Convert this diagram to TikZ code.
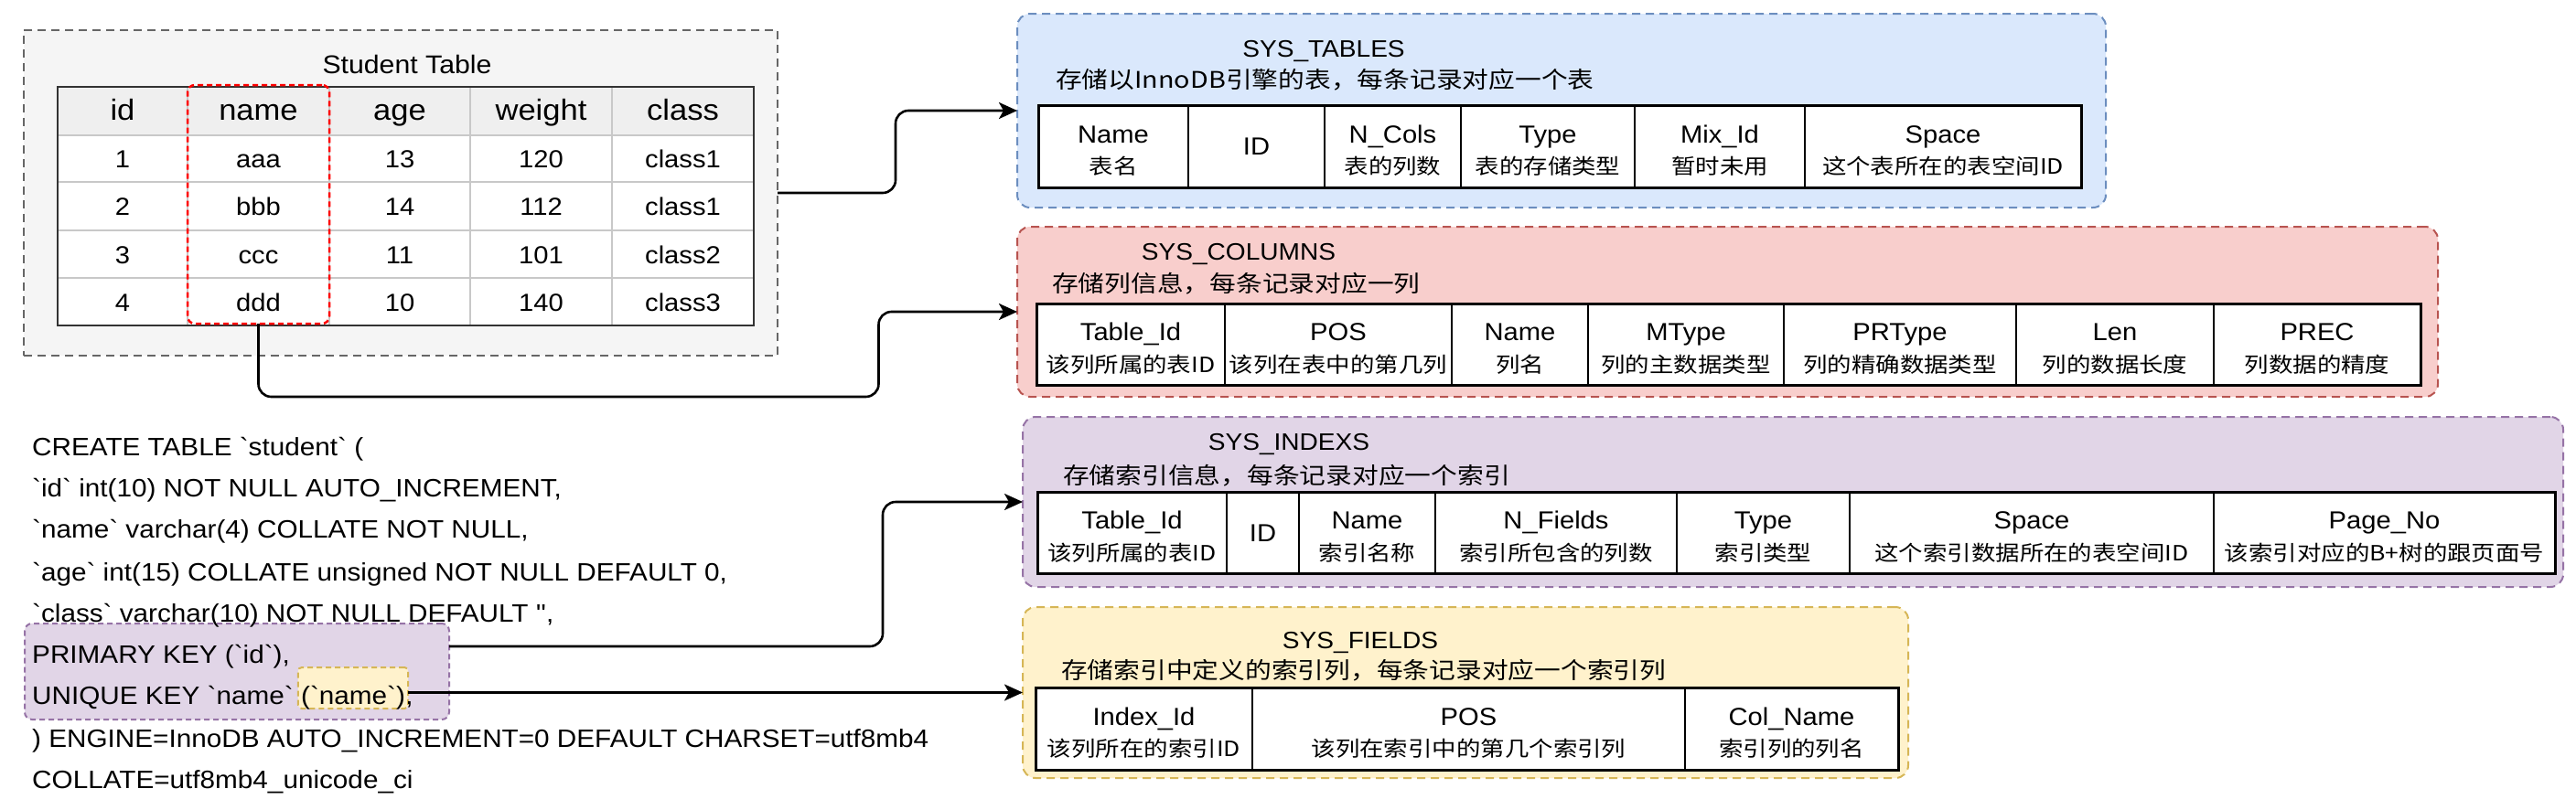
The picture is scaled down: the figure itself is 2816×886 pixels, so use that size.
\documentclass[tikz,border=0pt]{standalone}
\usepackage{fontspec}
\setmainfont{Liberation Sans}[FakeStretch=1.08]
\newfontfamily\sqlfont{Liberation Sans}[FakeStretch=1.08]
\newfontfamily\cjk{Noto Sans CJK SC}[FakeStretch=1.15]
\usetikzlibrary{arrows.meta,fit,backgrounds}
\definecolor{bluefill}{HTML}{DAE8FC}\definecolor{bluedraw}{HTML}{6C8EBF}
\definecolor{redfill}{HTML}{F8CECC}\definecolor{reddraw}{HTML}{B85450}
\definecolor{purfill}{HTML}{E1D5E7}\definecolor{purdraw}{HTML}{9673A6}
\definecolor{yelfill}{HTML}{FFF2CC}\definecolor{yeldraw}{HTML}{D6B656}
\definecolor{grayfill}{HTML}{F5F5F5}\definecolor{graydraw}{HTML}{666666}
\definecolor{hdrfill}{HTML}{EFEFEF}\definecolor{gridgray}{HTML}{C8C8C8}
\tikzset{
 grp/.style={draw, dash pattern=on 9pt off 6pt, line width=2pt, rounded corners=14pt, inner sep=0pt, outer sep=0pt, anchor=north west},
 conn/.style={line width=2.6pt, rounded corners=14pt, -{Stealth[length=20pt,width=18pt,inset=5pt]}},
 lat/.style={font=\fontsize{27}{30}\selectfont, inner sep=0pt, anchor=base},
 cjkc/.style={font=\cjk\fontsize{23}{26}\selectfont, inner sep=0pt, anchor=base},
 ttl/.style={font=\fontsize{26}{30}\selectfont, inner sep=0pt, anchor=base},
 subt/.style={font=\cjk\fontsize{25}{28}\selectfont, inner sep=0pt, anchor=base west},
 sql/.style={font=\sqlfont\fontsize{27.5}{30}\selectfont, inner sep=0pt, anchor=base west},
 sthdr/.style={font=\fontsize{32}{34}\selectfont, inner sep=0pt, anchor=base},
 stcell/.style={font=\fontsize{27}{30}\selectfont, inner sep=0pt, anchor=base},
 cellline/.style={line width=1.5pt, fill=white},
 tabouter/.style={line width=3pt},
}
\newcommand{\cellsTwo}[4]{%
  \foreach \xa/\xb/\ta/\tb [count=\i] in {#4}{
    \draw[cellline] (\xa,#2) rectangle (\xb,#3);
    \node[lat] (#1a\i) at ({(\xa+\xb)/2},{(#2+#3)/2-4}) {\ta};
    \node[cjkc] (#1b\i) at ({(\xa+\xb)/2},{(#2+#3)/2+30.5}) {\tb};
  }}
\newcommand{\cellsOne}[4]{%
  \foreach \xa/\xb/\ta [count=\i] in {#4}{
    \draw[cellline] (\xa,#2) rectangle (\xb,#3);
    \node[lat] (#1id\i) at ({(\xa+\xb)/2},{(#2+#3)/2+9.5}) {\ta};
  }}
\begin{document}
\begin{tikzpicture}[x=1pt,y=-1pt]
\useasboundingbox (0,0) rectangle (2816,886);

% ---------- Student table ----------
\node[grp, rounded corners=0pt, draw=graydraw, fill=grayfill, minimum width=824pt, minimum height=356pt] (stu) at (26,33) {};
\node[font=\fontsize{28}{30}\selectfont, inner sep=0pt, anchor=base] (sttitle) at (445,80) {Student Table};
\fill[hdrfill] (63,95) rectangle (824,148);
\fill[white] (63,148) rectangle (824,356);
\foreach \x in {205,360,514,669} \draw[gridgray, line width=2pt] (\x,95) -- (\x,356);
\foreach \y in {148,199,252,304} \draw[gridgray, line width=2pt] (63,\y) -- (824,\y);
\draw[black!80, line width=2.5pt] (63,95) rectangle (824,356);
\foreach \t/\x [count=\i] in {id/134,name/282.5,age/437,weight/591.5,class/746.5}
  \node[sthdr] (h\i) at (\x,131) {\t};
\foreach \a/\b/\c/\d/\e/\y [count=\i] in {1/aaa/13/120/class1/173.5, 2/bbb/14/112/class1/225.5, 3/ccc/11/101/class2/278, 4/ddd/10/140/class3/330}{
  \node[stcell] (r\i-1) at (134,\y+10) {\a};
  \node[stcell] (r\i-2) at (282.5,\y+10) {\b};
  \node[stcell] (r\i-3) at (437,\y+10) {\c};
  \node[stcell] (r\i-4) at (591.5,\y+10) {\d};
  \node[stcell] (r\i-5) at (746.5,\y+10) {\e};
}
\node[draw=red, dash pattern=on 6pt off 4pt, line width=2.5pt, rounded corners=8pt, inner sep=0pt, outer sep=0pt, anchor=north west, minimum width=155pt, minimum height=261pt] (namebox) at (205,93) {};

% ---------- SQL ----------
\node[sql] (s1) at (35,498) {CREATE TABLE `student` (};
\node[sql] (s2) at (35,543) {`id` int(10) NOT NULL AUTO\_INCREMENT,};
\node[sql] (s3) at (35,588) {`name` varchar(4) COLLATE NOT NULL,};
\node[sql] (s4) at (35,635) {`age` int(15) COLLATE unsigned NOT NULL DEFAULT 0,};
\node[sql] (s5) at (35,680) {`class` varchar(10) NOT NULL DEFAULT '',};
\node[sql] (s6) at (35,725) {PRIMARY KEY (`id`),};
\node[sql] (s7) at (35,770) {UNIQUE KEY `name`};
\node[sql] (s7b) at ([xshift=8pt]s7.base east) {(`name`)};
\node[sql] (s7c) at (s7b.base east) {,};
\node[sql] (s8) at (35,817) {) ENGINE=InnoDB AUTO\_INCREMENT=0 DEFAULT CHARSET=utf8mb4};
\node[sql] (s9) at (35,862) {COLLATE=utf8mb4\_unicode\_ci};

% ---------- SYS_TABLES ----------
\node[grp, draw=bluedraw, fill=bluefill, minimum width=1190pt, minimum height=212pt] (tables) at (1112,15) {};
\node[ttl] (tt) at (1447,62) {SYS\_TABLES};
\node[subt] (ts) at (1154,96) {存储以InnoDB引擎的表，每条记录对应一个表};
\cellsTwo{t}{115}{205}{1135/1299/Name/表名, 1448/1597/N\_Cols/表的列数, 1597/1787/Type/表的存储类型, 1787/1973/Mix\_Id/暂时未用, 1973/2275/Space/这个表所在的表空间ID}
\cellsOne{t}{115}{205}{1299/1448/ID}
\draw[tabouter] (1135,115) rectangle (2275,205);

% ---------- SYS_COLUMNS ----------
\node[grp, draw=reddraw, fill=redfill, minimum width=1553pt, minimum height=186pt] (columns) at (1112,248) {};
\node[ttl] (ct) at (1354,284) {SYS\_COLUMNS};
\node[subt] (cs) at (1150,319) {存储列信息，每条记录对应一列};
\cellsTwo{c}{332}{421}{1133/1339/Table\_Id/该列所属的表ID, 1339/1587/POS/该列在表中的第几列, 1587/1736/Name/列名, 1736/1950/MType/列的主数据类型, 1950/2204/PRType/列的精确数据类型, 2204/2420/Len/列的数据长度, 2420/2646/PREC/列数据的精度}
\draw[tabouter] (1133,332) rectangle (2646,421);

% ---------- SYS_INDEXS ----------
\node[grp, draw=purdraw, fill=purfill, minimum width=1684pt, minimum height=186pt] (indexs) at (1118,456) {};
\node[ttl] (it) at (1409,492) {SYS\_INDEXS};
\node[subt] (is) at (1162,529) {存储索引信息，每条记录对应一个索引};
\cellsTwo{i}{538}{627}{1134/1341/Table\_Id/该列所属的表ID, 1420/1569/Name/索引名称, 1569/1833/N\_Fields/索引所包含的列数, 1833/2022/Type/索引类型, 2022/2420/Space/这个索引数据所在的表空间ID, 2420/2793/Page\_No/该索引对应的B+树的跟页面号}
\cellsOne{i}{538}{627}{1341/1420/ID}
\draw[tabouter] (1134,538) rectangle (2793,627);

% ---------- SYS_FIELDS ----------
\node[grp, draw=yeldraw, fill=yelfill, minimum width=968pt, minimum height=187pt] (fields) at (1118,664) {};
\node[ttl] (ft) at (1487,709) {SYS\_FIELDS};
\node[subt] (fs) at (1160,742) {存储索引中定义的索引列，每条记录对应一个索引列};
\cellsTwo{f}{752}{842}{1132/1369/Index\_Id/该列所在的索引ID, 1369/1842/POS/该列在索引中的第几个索引列, 1842/2075/Col\_Name/索引列的列名}
\draw[tabouter] (1132,752) rectangle (2075,842);

% ---------- highlight boxes (behind SQL text) ----------
\coordinate (yb1) at ([xshift=-3pt,yshift=40pt]s7b.base west);
\coordinate (yb2) at ([xshift=3pt,yshift=-5pt]s7b.base east);
\begin{scope}[on background layer]
  \fill[white] (0,0) rectangle (2816,886);
  \node[draw=purdraw, fill=purfill, dash pattern=on 6pt off 4pt, line width=2pt, rounded corners=8pt, inner sep=0pt, outer sep=0pt, anchor=north west, minimum width=464pt, minimum height=105pt] (pkbox) at (27,682) {};
  \node[draw=yeldraw, fill=yelfill, dash pattern=on 6pt off 4pt, line width=2pt, rounded corners=4pt, inner sep=0pt, outer sep=0pt, fit=(yb1)(yb2)] (ybox) {};
\end{scope}

% ---------- connectors ----------
\draw[conn] (stu.east) -- ++(129,0) |- (tables.west);
\draw[conn] (namebox.south) |- ++(678,80) |- (columns.west);
\draw[conn] ([yshift=27.5pt]pkbox.east) -- ++(474,0) |- (indexs.west);
\draw[conn] (ybox.east |- fields.west) -- (fields.west);
\end{tikzpicture}
\end{document}
